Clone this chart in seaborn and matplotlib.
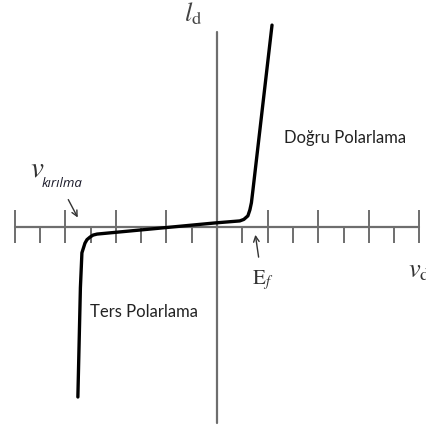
import matplotlib
matplotlib.use("Agg")
import matplotlib.pyplot as plt
import seaborn as sns
import pandas as pd

# Diode I-V characteristic (voltage in tick units, current in same scale)
voltage = [-2.75, -2.70, -2.67, -2.61, -2.57, -2.51, -2.45, -2.37, -0.04,
           0.45, 0.53, 0.61, 0.65, 0.68, 0.71, 1.087]
current = [-3.36, -1.20, -0.51, -0.32, -0.25, -0.20, -0.16, -0.14, 0.08,
           0.12, 0.15, 0.22, 0.34, 0.48, 0.73, 3.99]

major_ticks = [-4, -3, -2, -1, 1, 2, 3, 4]
minor_ticks = [-3.5, -2.5, -1.5, -0.5, 0.5, 1.5, 2.5, 3.5]

forward_label = "Doğru Polarlama"
reverse_label = "Ters Polarlama"

sns.set_style("white")
plt.rcParams["mathtext.fontset"] = "stix"

fig = plt.figure(figsize=(4.27, 4.26), dpi=100)
ax = fig.add_axes([0, 0, 1, 1])
ax.set_xlim(-4.289, 4.150)
ax.set_ylim(-3.933, 4.486)
ax.axis("off")

axis_color = "#6e6e6e"
# coordinate axes
ax.plot([-4.0, 4.0], [0, 0], color=axis_color, lw=1.6, solid_capstyle="butt", zorder=1)
ax.plot([0, 0], [-3.87, 3.85], color=axis_color, lw=1.6, solid_capstyle="butt", zorder=1)
# tick marks
ax.vlines(major_ticks, -0.32, 0.34, color=axis_color, lw=1.4, zorder=1)
ax.vlines(minor_ticks, -0.32, 0.0, color=axis_color, lw=1.4, zorder=1)

df = pd.DataFrame({"v": voltage, "i": current})
sns.lineplot(data=df, x="v", y="i", sort=False, color="black", lw=2.4, ax=ax,
             zorder=3)
for ln in ax.get_lines():
    ln.set_solid_joinstyle("round")
    ln.set_solid_capstyle("round")

txt = "#222222"
ax.text(2.53, 1.76, forward_label, ha="center", va="center", fontsize=12,
        family="Lato", color=txt)
ax.text(-1.44, -1.68, reverse_label, ha="center", va="center", fontsize=12,
        family="Lato", color=txt)

# axis labels
ax.text(-0.48, 4.20, r"$l_{\mathrm{d}}$", ha="center", va="center", fontsize=19,
        color="#444444")
ax.text(3.78, -0.86, r"$v_{\mathrm{d}}$", ha="left", va="center", fontsize=19,
        color="#333333", clip_on=False)

# breakdown voltage label and arrow
ax.text(-3.56, 1.15, r"$v$", ha="center", va="center", fontsize=21, color="#333333")
ax.text(-3.06, 0.86, "kırılma", ha="center", va="center", fontsize=9.5,
        style="italic", family="Open Sans", color="#1a1a2a")
ax.annotate("", xy=(-2.727, 0.138), xytext=(-2.965, 0.59),
            arrowprops=dict(arrowstyle="->", color="#333333", lw=1.0))

# Fermi / forward threshold label and arrow
ax.annotate("", xy=(0.75, -0.10), xytext=(0.83, -0.65),
            arrowprops=dict(arrowstyle="->", color="#333333", lw=1.0))
ax.text(0.90, -1.05, r"$\mathrm{E}_f$", ha="center", va="center", fontsize=15,
        color="#333333")

fig.savefig("out.png", dpi=100)
